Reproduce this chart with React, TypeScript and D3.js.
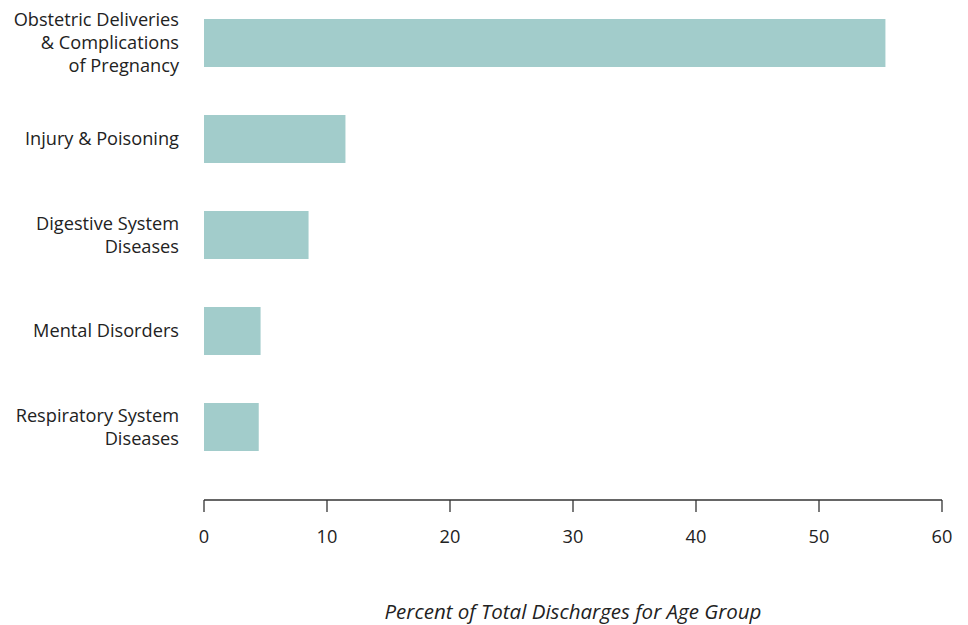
import React from "react";
import * as d3 from "d3";

const categories: string[][] = [
  ["Obstetric Deliveries", "& Complications", "of Pregnancy"],
  ["Injury & Poisoning"],
  ["Digestive System", "Diseases"],
  ["Mental Disorders"],
  ["Respiratory System", "Diseases"],
];
const values: number[] = [55.4, 11.5, 8.5, 4.6, 4.45];
const ticks: number[] = [0, 10, 20, 30, 40, 50, 60];
const xTitle = "Percent of Total Discharges for Age Group";

export default function App() {
  const W = 968, H = 625;
  const font = "'Open Sans', sans-serif";
  const x = d3.scaleLinear().domain([0, 60]).range([204, 942]);
  const keys = categories.map((_, i) => String(i));
  const y = d3.scaleBand().domain(keys).range([-5, 475]).paddingInner(0.5).paddingOuter(0.25);
  const lh = 23;
  return (
    <svg width={W} height={H} style={{ position: "absolute", left: 0, top: 0, background: "#fff" }} fontFamily={font}>
      {values.map((v, i) => (
        <rect key={i} x={x(0)} y={y(keys[i])} width={x(v) - x(0)} height={y.bandwidth()} fill="#a2cccb" />
      ))}
      {categories.map((lines, i) => {
        const cy = (y(keys[i]) as number) + y.bandwidth() / 2;
        const start = cy - ((lines.length - 1) * lh) / 2;
        return (
          <text key={i} textAnchor="end" fontSize={18.2} fill="#222">
            {lines.map((l, j) => (
              <tspan key={j} x={179} y={start + j * lh} dy="0.35em">{l}</tspan>
            ))}
          </text>
        );
      })}
      <line x1={x(0)} x2={x(60)} y1={500} y2={500} stroke="#333" strokeWidth={1.3} />
      {ticks.map((t) => (
        <g key={t}>
          <line x1={x(t)} x2={x(t)} y1={500} y2={512} stroke="#333" strokeWidth={1.3} />
          <text x={x(t)} y={537} dy="0.35em" textAnchor="middle" fontSize={18.2} fill="#222">{t}</text>
        </g>
      ))}
      <text x={573} y={612} dy="0.35em" textAnchor="middle" fontSize={20.5} fontStyle="italic" fill="#222">{xTitle}</text>
    </svg>
  );
}
